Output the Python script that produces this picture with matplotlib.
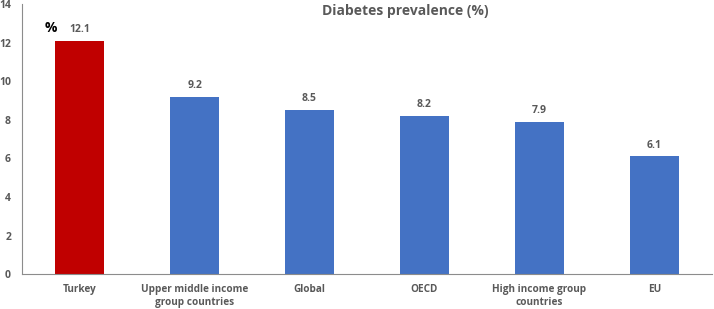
import matplotlib
matplotlib.use("Agg")
import matplotlib.pyplot as plt

# Data
categories = ["Turkey", "Upper middle income\ngroup countries", "Global",
              "OECD", "High income group\ncountries", "EU"]
values = [12.1, 9.2, 8.5, 8.2, 7.9, 6.1]
colors = ["#C00000", "#4472C4", "#4472C4", "#4472C4", "#4472C4", "#4472C4"]
yticks = [0, 2, 4, 6, 8, 10, 12, 14]

plt.rcParams['font.family'] = ['Open Sans', 'DejaVu Sans']
txt = "#595959"

fig = plt.figure(figsize=(7.14, 3.09), dpi=100)
ax = fig.add_axes([0.031, 0.113, 0.966, 0.874])

x = range(len(categories))
bars = ax.bar(x, values, width=0.42, color=colors, zorder=2)
for b, v in zip(bars, values):
    ax.text(b.get_x() + b.get_width() / 2, v + 0.3, f"{v:.1f}",
            ha="center", va="bottom", fontsize=7.5, fontweight="bold", color=txt)

ax.set_xlim(-0.5, 5.5)
ax.set_ylim(0, 14)
ax.set_yticks(yticks)
ax.set_xticks(list(x))
ax.set_xticklabels(categories, fontsize=7.2, fontweight="bold", color=txt, linespacing=1.3)
ax.tick_params(axis="y", labelsize=7.5, colors=txt, length=0, pad=8)
ax.tick_params(axis="x", length=0, pad=7)
for lab in ax.get_yticklabels():
    lab.set_fontweight("bold")

ax.spines["top"].set_visible(False)
ax.spines["right"].set_visible(False)
ax.spines["left"].set_color("#8c8c8c")
ax.spines["bottom"].set_color("#8c8c8c")

fig.text(0.567, 0.965, "Diabetes prevalence (%)", ha="center", va="center",
         fontsize=10, fontweight="bold", color=txt)
ax.text(-0.25, 12.75, "%", ha="center", va="center", fontsize=10,
        fontweight="bold", color="black")

fig.savefig("out.png", dpi=100)
